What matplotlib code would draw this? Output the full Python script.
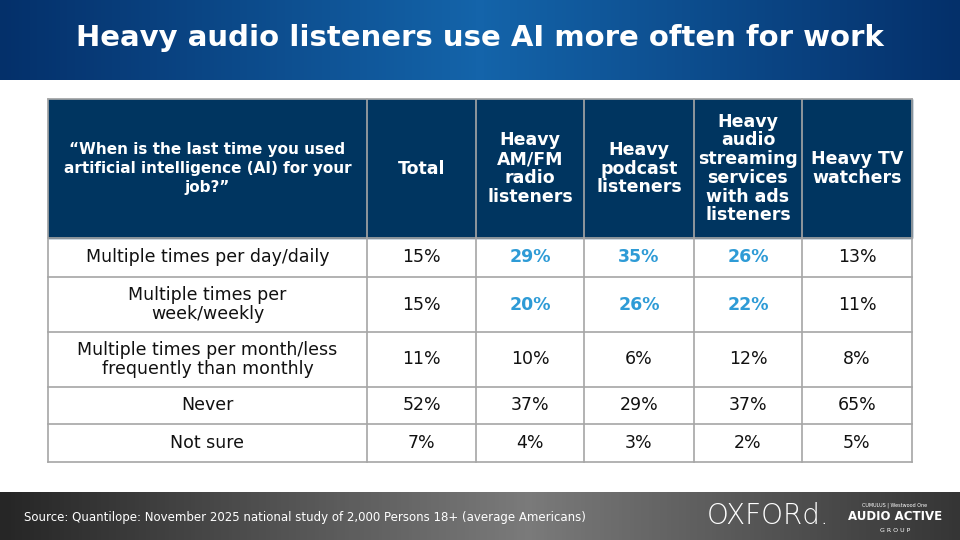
import numpy as np
import matplotlib.pyplot as plt
from matplotlib.colors import LinearSegmentedColormap
from matplotlib.patches import Rectangle

title = "Heavy audio listeners use AI more often for work"
question = "\u201cWhen is the last time you used\nartificial intelligence (AI) for your\njob?\u201d"
columns = ["Total", "Heavy\nAM/FM\nradio\nlisteners", "Heavy\npodcast\nlisteners",
           "Heavy\naudio\nstreaming\nservices\nwith ads\nlisteners", "Heavy TV\nwatchers"]
rows = ["Multiple times per day/daily", "Multiple times per\nweek/weekly",
        "Multiple times per month/less\nfrequently than monthly", "Never", "Not sure"]
values = [
    [15, 29, 35, 26, 13],
    [15, 20, 26, 22, 11],
    [11, 10, 6, 12, 8],
    [52, 37, 29, 37, 65],
    [7, 4, 3, 2, 5],
]
highlight = [
    [0, 1, 1, 1, 0],
    [0, 1, 1, 1, 0],
    [0, 0, 0, 0, 0],
    [0, 0, 0, 0, 0],
    [0, 0, 0, 0, 0],
]
source = "Source: Quantilope: November 2025 national study of 2,000 Persons 18+ (average Americans)"

NAVY = "#003560"
BLUE = "#2E9BD6"
GRID = "#A6A6A6"

fig = plt.figure(figsize=(9.6, 5.4), dpi=100)
ax = fig.add_axes([0, 0, 1, 1])
ax.set_xlim(0, 960)
ax.set_ylim(540, 0)
ax.axis("off")

# title band (gradient, lighter in the middle)
grad = np.linspace(0, 1, 256)
band = np.outer(np.ones(10), np.abs(grad - 0.5) * 2)
ax.imshow(band, extent=[0, 960, 80, 0], aspect="auto", zorder=0,
          cmap=LinearSegmentedColormap.from_list("t", ["#1464AA", "#04306A"]))
ax.text(480, 38, title, color="white", fontsize=21, fontweight="bold", ha="center", va="center")

# footer band
fband = np.outer(np.ones(10), 1 - np.abs(grad - 0.55) * 1.6)
ax.imshow(fband, extent=[0, 960, 540, 492], aspect="auto", zorder=0,
          cmap=LinearSegmentedColormap.from_list("f", ["#262626", "#7A7A7A"]))
ax.text(24, 518, source, color="white", fontsize=8.5, va="center")
ax.text(768, 516, "OXFORd.", color="white", fontsize=20, va="center", ha="center", fontweight="light")
ax.text(895, 517, "AUDIO ACTIVE", color="white", fontsize=8.5, fontweight="bold", va="center", ha="center")
ax.text(895, 530, "G R O U P", color="white", fontsize=4.5, va="center", ha="center")
ax.text(895, 505, "CUMULUS | Westwood One", color="white", fontsize=3.5, va="center", ha="center")

# table
xs = [48, 367, 476, 584, 694, 802, 912]
ys = [99, 238, 277, 332, 387, 424, 462]

ax.add_patch(Rectangle((xs[0], ys[0]), xs[-1] - xs[0], ys[1] - ys[0], color=NAVY, zorder=1))
ax.text((xs[0] + xs[1]) / 2, (ys[0] + ys[1]) / 2, question, color="white", fontsize=11,
        fontweight="bold", ha="center", va="center", linespacing=1.3, zorder=3)
for j, col in enumerate(columns):
    ax.text((xs[j + 1] + xs[j + 2]) / 2, (ys[0] + ys[1]) / 2, col, color="white", fontsize=12.5,
            fontweight="bold", ha="center", va="center", linespacing=1.05, zorder=3)

for i, r in enumerate(rows):
    yc = (ys[i + 1] + ys[i + 2]) / 2
    ax.text((xs[0] + xs[1]) / 2, yc, r, fontsize=12.5, ha="center", va="center",
            color="#111111", linespacing=1.05)
    for j, v in enumerate(values[i]):
        hl = highlight[i][j]
        ax.text((xs[j + 1] + xs[j + 2]) / 2, yc, f"{v}%", fontsize=12.5, ha="center", va="center",
                color=BLUE if hl else "#111111", fontweight="bold" if hl else "normal")

for y in ys:
    ax.plot([xs[0], xs[-1]], [y, y], color=GRID, lw=1.2, zorder=2)
for x in xs:
    ax.plot([x, x], [ys[0], ys[-1]], color=GRID, lw=1.2, zorder=2)

fig.savefig("out.png", dpi=100)
